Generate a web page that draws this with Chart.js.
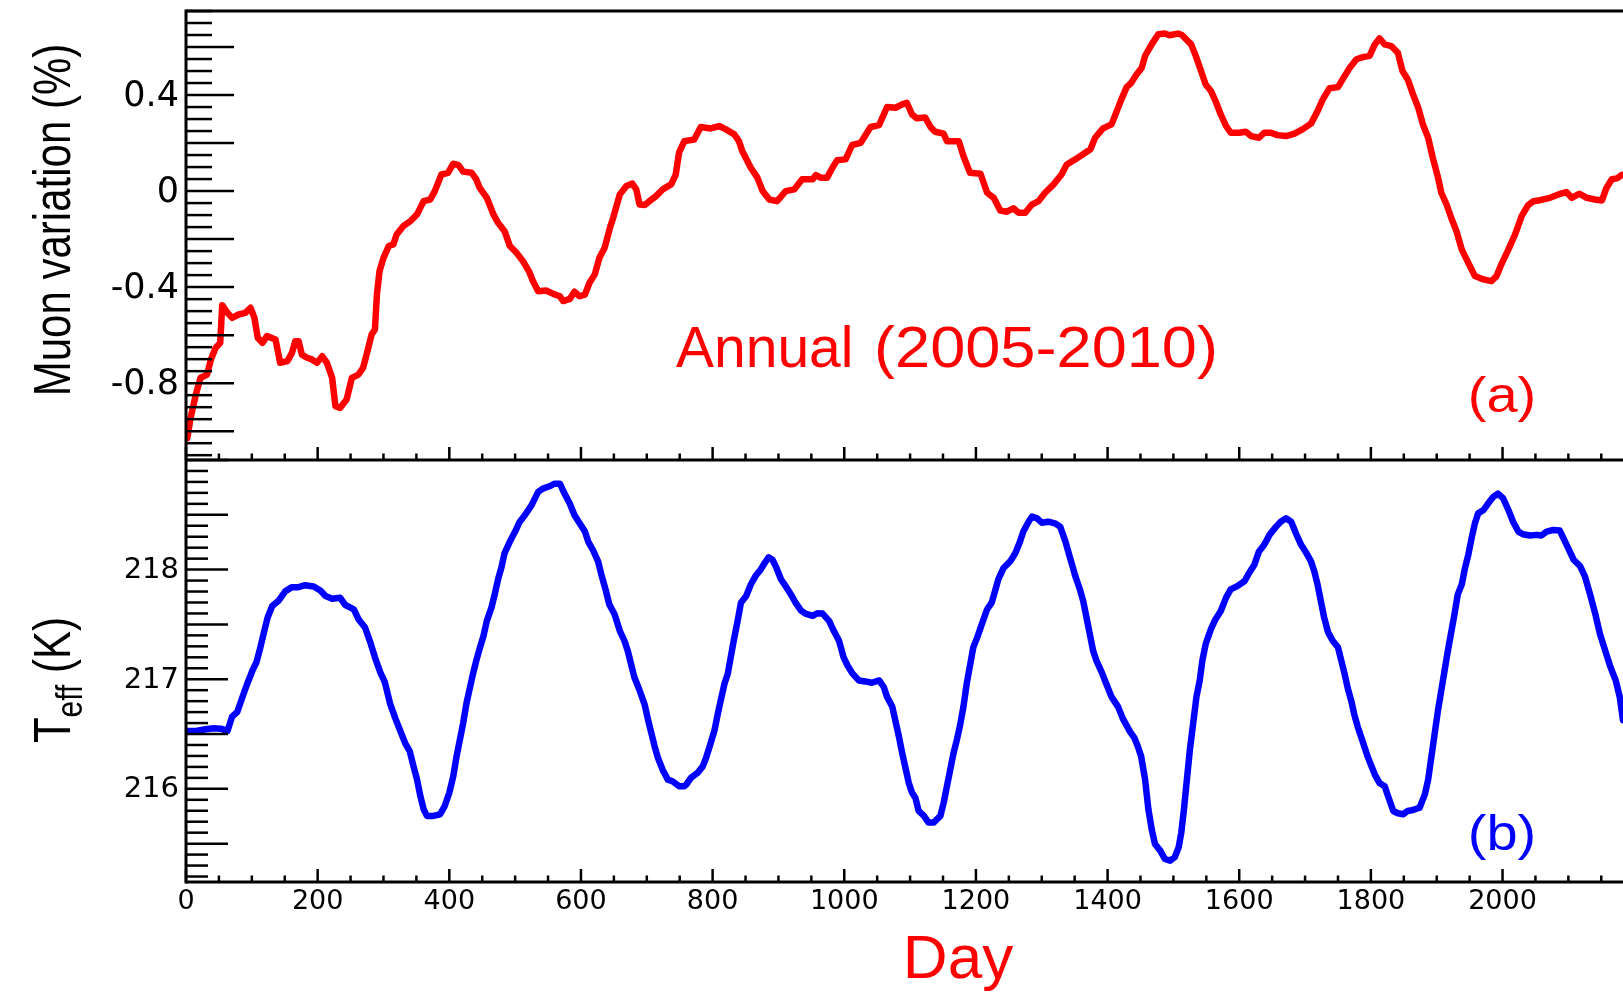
<!DOCTYPE html>
<html>
<head>
<meta charset="utf-8">
<title>Muon variation and effective temperature</title>
<script src="https://cdn.jsdelivr.net/npm/chart.js@4.4.1/dist/chart.umd.min.js"></script>
<style>
  html, body { margin: 0; padding: 0; background: #fff; overflow: hidden; }
  canvas { display: block; }
</style>
</head>
<body>
<canvas id="chart" width="1623" height="992"></canvas>
<script>
// (a) muon rate variation, 1-year running average
const muonDays = [2, 7, 15, 22, 32, 38, 45, 52, 55, 63, 70, 80, 90, 98, 104, 109, 116, 123, 136, 143,
  154, 161, 166, 171, 176, 184, 191, 199, 207, 214, 222, 227, 234, 244, 252, 262, 269, 275, 282, 287,
  290, 294, 300, 308, 315, 320, 330, 341, 351, 361, 371, 378, 388, 398, 406, 414, 421, 434, 441, 446,
  457, 467, 474, 484, 492, 502, 512, 522, 527, 535, 547, 558, 568, 573, 583, 590, 598, 606, 613, 621,
  628, 636, 644, 649, 659, 669, 678, 684, 689, 697, 704, 714, 724, 737, 744, 749, 757, 772, 782, 797,
  810, 820, 833, 840, 845, 858, 868, 876, 886, 898, 911, 924, 936, 952, 957, 964, 974, 982, 989, 1002,
  1012, 1025, 1040, 1053, 1065, 1078, 1088, 1095, 1103, 1110, 1123, 1131, 1138, 1151, 1156, 1174, 1181, 1191, 1207, 1217,
  1227, 1237, 1247, 1257, 1265, 1275, 1285, 1295, 1305, 1318, 1330, 1338, 1351, 1361, 1374, 1381, 1393, 1406, 1414, 1421,
  1429, 1436, 1444, 1452, 1457, 1467, 1477, 1487, 1494, 1507, 1513, 1527, 1534, 1542, 1549, 1557, 1564, 1572, 1580, 1587,
  1600, 1610, 1618, 1630, 1638, 1648, 1658, 1671, 1684, 1696, 1709, 1719, 1727, 1737, 1750, 1757, 1768, 1778, 1788, 1798,
  1806, 1813, 1821, 1831, 1841, 1848, 1856, 1864, 1872, 1879, 1887, 1894, 1902, 1907, 1915, 1922, 1930, 1938, 1948, 1958,
  1971, 1983, 1991, 1998, 2009, 2019, 2029, 2039, 2047, 2057, 2072, 2085, 2097, 2105, 2117, 2128, 2140, 2151, 2158, 2166,
  2174, 2181];
const muonValues = [-1.028, -0.944, -0.847, -0.778, -0.764, -0.700, -0.653, -0.632, -0.475, -0.507, -0.528, -0.514, -0.507, -0.486, -0.528, -0.611, -0.632, -0.604, -0.618, -0.715,
  -0.708, -0.674, -0.625, -0.625, -0.681, -0.694, -0.701, -0.715, -0.688, -0.715, -0.778, -0.896, -0.903, -0.868, -0.778, -0.764, -0.736, -0.674, -0.597, -0.576,
  -0.431, -0.333, -0.278, -0.229, -0.222, -0.181, -0.146, -0.125, -0.097, -0.042, -0.035, 0.000, 0.069, 0.076, 0.114, 0.108, 0.081, 0.076, 0.049, 0.014,
  -0.028, -0.097, -0.132, -0.167, -0.229, -0.257, -0.292, -0.340, -0.375, -0.417, -0.414, -0.428, -0.438, -0.458, -0.449, -0.419, -0.438, -0.431, -0.382, -0.347,
  -0.278, -0.236, -0.153, -0.111, -0.014, 0.021, 0.031, 0.007, -0.056, -0.058, -0.042, -0.021, 0.007, 0.028, 0.069, 0.160, 0.208, 0.215, 0.267, 0.261,
  0.271, 0.257, 0.236, 0.208, 0.167, 0.097, 0.056, 0.000, -0.035, -0.042, 0.000, 0.007, 0.049, 0.049, 0.067, 0.056, 0.056, 0.097, 0.128, 0.132,
  0.192, 0.201, 0.267, 0.275, 0.350, 0.347, 0.361, 0.368, 0.319, 0.303, 0.306, 0.267, 0.247, 0.239, 0.208, 0.208, 0.146, 0.076, 0.072, -0.007,
  -0.028, -0.081, -0.086, -0.072, -0.090, -0.090, -0.056, -0.042, -0.007, 0.028, 0.069, 0.111, 0.132, 0.150, 0.174, 0.222, 0.261, 0.278, 0.333, 0.382,
  0.433, 0.451, 0.486, 0.514, 0.563, 0.611, 0.653, 0.656, 0.649, 0.656, 0.650, 0.611, 0.563, 0.500, 0.444, 0.417, 0.375, 0.319, 0.271, 0.243,
  0.243, 0.247, 0.229, 0.222, 0.243, 0.243, 0.233, 0.229, 0.239, 0.257, 0.281, 0.333, 0.382, 0.428, 0.433, 0.465, 0.514, 0.549, 0.558, 0.563,
  0.611, 0.636, 0.611, 0.604, 0.576, 0.500, 0.465, 0.403, 0.347, 0.278, 0.222, 0.139, 0.056, -0.007, -0.056, -0.111, -0.167, -0.243, -0.299, -0.354,
  -0.368, -0.375, -0.354, -0.306, -0.243, -0.181, -0.104, -0.058, -0.042, -0.038, -0.028, -0.014, -0.004, -0.028, -0.011, -0.028, -0.035, -0.039, 0.014, 0.049,
  0.053, 0.067];

// (b) effective atmospheric temperature, K
const teffDays = [2, 17, 30, 42, 53, 63, 70, 78, 85, 93, 101, 107, 113, 119, 124, 131, 141, 151, 161, 171,
  181, 194, 204, 212, 222, 234, 242, 255, 262, 272, 280, 287, 295, 302, 310, 318, 325, 333, 340, 345,
  351, 356, 361, 366, 376, 386, 393, 400, 406, 411, 416, 421, 426, 431, 436, 441, 446, 452, 457, 464,
  469, 474, 479, 484, 492, 500, 507, 515, 525, 535, 542, 552, 560, 568, 575, 583, 590, 598, 606, 611,
  618, 626, 631, 638, 643, 651, 659, 666, 671, 676, 681, 689, 697, 702, 707, 712, 717, 724, 732, 739,
  749, 757, 760, 767, 777, 785, 790, 797, 803, 808, 813, 818, 823, 828, 833, 838, 843, 851, 858, 866,
  873, 879, 885, 891, 897, 904, 911, 919, 926, 934, 941, 952, 959, 967, 977, 984, 992, 999, 1005, 1012,
  1022, 1032, 1042, 1053, 1060, 1065, 1073, 1078, 1083, 1088, 1093, 1098, 1103, 1108, 1113, 1121, 1128, 1136, 1146, 1151,
  1156, 1161, 1166, 1171, 1176, 1181, 1186, 1191, 1196, 1202, 1209, 1217, 1224, 1229, 1234, 1242, 1252, 1260, 1267, 1272,
  1280, 1285, 1293, 1300, 1310, 1320, 1328, 1336, 1343, 1351, 1358, 1363, 1368, 1373, 1378, 1383, 1391, 1398, 1406, 1416,
  1423, 1434, 1441, 1446, 1451, 1457, 1462, 1467, 1472, 1480, 1487, 1495, 1502, 1508, 1512, 1516, 1520, 1525, 1530, 1535,
  1540, 1544, 1549, 1557, 1564, 1572, 1580, 1587, 1597, 1608, 1615, 1623, 1630, 1638, 1646, 1656, 1663, 1671, 1679, 1686,
  1694, 1702, 1709, 1714, 1719, 1724, 1729, 1735, 1742, 1750, 1755, 1760, 1765, 1770, 1775, 1780, 1785, 1790, 1795, 1800,
  1806, 1813, 1821, 1826, 1834, 1841, 1849, 1856, 1864, 1874, 1882, 1887, 1892, 1897, 1902, 1907, 1912, 1917, 1922, 1927,
  1932, 1938, 1943, 1948, 1953, 1958, 1963, 1971, 1978, 1986, 1993, 2001, 2009, 2016, 2024, 2031, 2042, 2052, 2059, 2067,
  2077, 2087, 2095, 2102, 2108, 2118, 2125, 2133, 2141, 2148, 2156, 2164, 2172, 2178, 2183];
const teffValues = [216.528, 216.530, 216.543, 216.552, 216.549, 216.528, 216.658, 216.703, 216.824, 216.959, 217.080, 217.155, 217.291, 217.442, 217.563, 217.668, 217.719, 217.804, 217.840, 217.840,
  217.858, 217.846, 217.810, 217.759, 217.735, 217.744, 217.677, 217.638, 217.548, 217.472, 217.336, 217.200, 217.065, 216.974, 216.778, 216.643, 216.537, 216.416, 216.341, 216.220,
  216.084, 215.934, 215.813, 215.753, 215.753, 215.768, 215.843, 215.964, 216.115, 216.296, 216.446, 216.597, 216.778, 216.914, 217.050, 217.170, 217.276, 217.397, 217.532, 217.653,
  217.774, 217.910, 218.015, 218.151, 218.256, 218.347, 218.437, 218.498, 218.588, 218.709, 218.739, 218.760, 218.784, 218.784, 218.694, 218.603, 218.498, 218.422, 218.347, 218.256,
  218.181, 218.075, 217.955, 217.804, 217.683, 217.593, 217.442, 217.351, 217.261, 217.140, 217.020, 216.899, 216.763, 216.627, 216.507, 216.386, 216.281, 216.175, 216.084, 216.069,
  216.024, 216.024, 216.039, 216.100, 216.145, 216.205, 216.281, 216.416, 216.537, 216.688, 216.824, 216.959, 217.050, 217.216, 217.382, 217.532, 217.698, 217.759, 217.864, 217.949,
  218.000, 218.060, 218.112, 218.090, 218.015, 217.910, 217.849, 217.774, 217.698, 217.629, 217.599, 217.578, 217.602, 217.599, 217.532, 217.442, 217.351, 217.200, 217.125, 217.056,
  216.989, 216.980, 216.968, 216.989, 216.929, 216.839, 216.748, 216.612, 216.477, 216.326, 216.190, 216.054, 215.964, 215.919, 215.798, 215.753, 215.692, 215.692, 215.753, 215.873,
  216.024, 216.175, 216.326, 216.446, 216.582, 216.748, 216.959, 217.125, 217.291, 217.382, 217.502, 217.638, 217.698, 217.804, 217.910, 218.015, 218.075, 218.151, 218.256, 218.347,
  218.437, 218.483, 218.468, 218.428, 218.437, 218.422, 218.392, 218.256, 218.106, 217.940, 217.819, 217.713, 217.563, 217.412, 217.261, 217.170, 217.065, 216.959, 216.839, 216.748,
  216.643, 216.522, 216.462, 216.386, 216.296, 216.084, 215.813, 215.632, 215.496, 215.436, 215.360, 215.345, 215.376, 215.466, 215.602, 215.813, 216.054, 216.356, 216.597, 216.839,
  216.990, 217.170, 217.321, 217.457, 217.548, 217.623, 217.744, 217.819, 217.849, 217.894, 217.970, 218.045, 218.166, 218.226, 218.317, 218.392, 218.437, 218.468, 218.437, 218.332,
  218.226, 218.151, 218.075, 217.985, 217.864, 217.713, 217.563, 217.427, 217.351, 217.291, 217.170, 217.050, 216.914, 216.808, 216.673, 216.567, 216.477, 216.386, 216.296, 216.220,
  216.130, 216.054, 216.024, 215.934, 215.798, 215.777, 215.768, 215.798, 215.807, 215.828, 215.949, 216.084, 216.296, 216.507, 216.718, 216.899, 217.080, 217.261, 217.427, 217.593,
  217.774, 217.864, 218.015, 218.136, 218.287, 218.422, 218.513, 218.543, 218.603, 218.664, 218.694, 218.649, 218.543, 218.437, 218.347, 218.323, 218.311, 218.317, 218.311, 218.347,
  218.362, 218.356, 218.256, 218.166, 218.090, 218.030, 217.940, 217.774, 217.593, 217.412, 217.261, 217.110, 216.989, 216.839, 216.627];

// labelled ticks
const dayTicks = [0, 200, 400, 600, 800, 1000, 1200, 1400, 1600, 1800, 2000];
const muonTicks = [-0.8, -0.4, 0, 0.4];
const teffTicks = [216, 217, 218];

const SANS = '"Liberation Sans", Arial, sans-serif';

const toPoints = (xs, ys) => xs.map((x, i) => ({ x: x, y: ys[i] }));

function line(ctx, x1, y1, x2, y2) {
  ctx.beginPath();
  ctx.moveTo(x1, y1);
  ctx.lineTo(x2, y2);
  ctx.stroke();
}

// inward tick marks along the left edge of one panel
function leftTicks(ctx, scale, left, step, longEvery, longLen, shortLen) {
  const n0 = Math.ceil(scale.min / step - 1e-6);
  const n1 = Math.floor(scale.max / step + 1e-6);
  for (let n = n0; n <= n1; n++) {
    const py = scale.getPixelForValue(n * step);
    line(ctx, left, py, left + (n % longEvery === 0 ? longLen : shortLen), py);
  }
}

// text squeezed or stretched horizontally to a given width
function fitText(ctx, text, x, y, width) {
  const w = ctx.measureText(text).width;
  ctx.save();
  ctx.translate(x, y);
  ctx.scale(width / w, 1);
  ctx.fillText(text, 0, 0);
  ctx.restore();
}

// keep the axis boxes exactly where the frame is, no label overhang
function noOverhang(s) {
  s.paddingTop = 0;
  s.paddingBottom = 0;
  s.paddingLeft = 0;
  s.paddingRight = 0;
}

// panel frames, ROOT-like ticks and the free text
const frame = {
  id: 'frame',
  afterDraw(chart) {
    const ctx = chart.ctx;
    const { left, right } = chart.chartArea;
    const x = chart.scales.x, yA = chart.scales.yA, yB = chart.scales.yB;
    ctx.save();
    ctx.strokeStyle = '#000';
    ctx.lineCap = 'butt';

    ctx.lineWidth = 2.5;
    leftTicks(ctx, yA, left, 0.05, 4, 48, 26);
    leftTicks(ctx, yB, left, 0.1, 5, 42, 22);
    for (let d = 0; d <= x.max; d += 50) {
      const px = x.getPixelForValue(d);
      const len = d % 200 === 0 ? 13 : 6.5;
      line(ctx, px, yA.bottom, px, yA.bottom - len);
      line(ctx, px, yB.bottom, px, yB.bottom - len);
    }

    ctx.lineWidth = 3;
    line(ctx, left, yA.top, right, yA.top);
    line(ctx, left, yA.bottom, right, yA.bottom);
    line(ctx, left, yB.bottom, right, yB.bottom);
    line(ctx, left, yA.top - 1.5, left, yB.bottom + 1.5);

    ctx.textBaseline = 'alphabetic';

    // y titles, read bottom to top
    ctx.fillStyle = '#000';
    ctx.save();
    ctx.translate(70, 220);
    ctx.rotate(-Math.PI / 2);
    ctx.scale(1, 1.25);
    ctx.font = '42px ' + SANS;
    ctx.textAlign = 'center';
    ctx.fillText('Muon variation (%)', 0, 0);
    ctx.restore();

    ctx.save();
    ctx.translate(70, 680);
    ctx.rotate(-Math.PI / 2);
    ctx.scale(1, 1.25);
    ctx.textAlign = 'left';
    ctx.font = '42px ' + SANS;
    const wT = ctx.measureText('T').width;
    const wK = ctx.measureText(' (K)').width;
    ctx.font = '30px ' + SANS;
    const wE = ctx.measureText('eff').width;
    const x0 = -(wT + wE + wK) / 2;
    ctx.font = '42px ' + SANS;
    ctx.fillText('T', x0, 0);
    ctx.font = '30px ' + SANS;
    ctx.fillText('eff', x0 + wT, 9.6);
    ctx.font = '42px ' + SANS;
    ctx.fillText(' (K)', x0 + wT + wE, 0);
    ctx.restore();

    // x title
    ctx.fillStyle = '#ff0000';
    ctx.font = '62px ' + SANS;
    ctx.textAlign = 'center';
    ctx.fillText('Day', 958, 978);

    ctx.font = '57px ' + SANS;
    ctx.textAlign = 'left';
    ctx.fillText('Annual', 676, 367);
    fitText(ctx, '(2005-2010)', 874, 367, 344);

    // panel tags
    ctx.font = '50px ' + SANS;
    ctx.textAlign = 'center';
    ctx.save();
    ctx.translate(1502, 412);
    ctx.scale(1.12, 1);
    ctx.fillText('(a)', 0, 0);
    ctx.restore();
    ctx.fillStyle = '#0000ff';
    ctx.save();
    ctx.translate(1502, 850);
    ctx.scale(1.12, 1);
    ctx.fillText('(b)', 0, 0);
    ctx.restore();

    ctx.restore();
  }
};

const tickFont = size => ({ family: '"DejaVu Sans", sans-serif', size: size });

new Chart(document.getElementById('chart'), {
  type: 'line',
  data: {
    datasets: [
      {
        label: 'Muon variation (%)',
        data: toPoints(muonDays, muonValues),
        yAxisID: 'yA',
        borderColor: '#ff0000',
        borderWidth: 6.5,
        pointRadius: 0,
        tension: 0,
        borderJoinStyle: 'round',
        borderCapStyle: 'round'
      },
      {
        label: 'Teff (K)',
        data: toPoints(teffDays, teffValues),
        yAxisID: 'yB',
        borderColor: '#0000ff',
        borderWidth: 6.5,
        pointRadius: 0,
        tension: 0,
        borderJoinStyle: 'round',
        borderCapStyle: 'round'
      }
    ]
  },
  options: {
    responsive: false,
    animation: false,
    devicePixelRatio: 1,
    layout: { padding: { top: 11, right: 0, bottom: 0, left: 0 } },
    plugins: { legend: { display: false }, tooltip: { enabled: false } },
    scales: {
      x: {
        type: 'linear',
        min: 0,
        max: 2183,
        grid: { display: false, drawTicks: false },
        border: { display: false },
        afterBuildTicks: s => { s.ticks = dayTicks.map(v => ({ value: v })); },
        afterFit: s => { s.height = 110; noOverhang(s); },
        ticks: {
          padding: 4, color: '#000', font: tickFont(27),
          maxRotation: 0, autoSkip: false, callback: v => String(v)
        }
      },
      yA: {
        type: 'linear',
        position: 'left',
        stack: 'panels',
        stackWeight: 449,
        weight: 1,
        min: -1.12,
        max: 0.75,
        grid: { display: false, drawTicks: false },
        border: { display: false },
        afterBuildTicks: s => { s.ticks = muonTicks.map(v => ({ value: v })); },
        afterFit: s => { s.width = 186; noOverhang(s); },
        ticks: { padding: 7, labelOffset: 2, color: '#000', font: tickFont(35), callback: v => String(v) }
      },
      yB: {
        type: 'linear',
        position: 'left',
        stack: 'panels',
        stackWeight: 422,
        weight: 0,
        min: 215.15,
        max: 219,
        grid: { display: false, drawTicks: false },
        border: { display: false },
        afterBuildTicks: s => { s.ticks = teffTicks.map(v => ({ value: v })); },
        afterFit: s => { s.width = 186; noOverhang(s); },
        ticks: { padding: 7, labelOffset: 1, color: '#000', font: tickFont(29), callback: v => String(v) }
      }
    }
  },
  plugins: [frame]
});
</script>
</body>
</html>
